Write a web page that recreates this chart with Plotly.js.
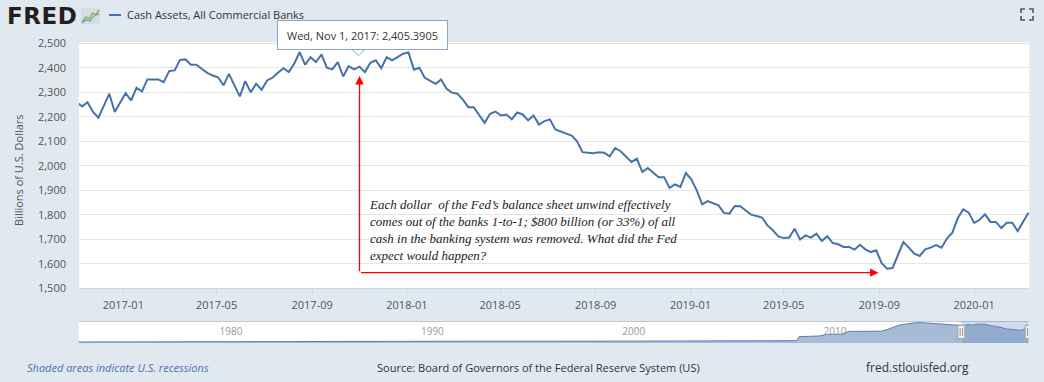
<!DOCTYPE html>
<html><head><meta charset="utf-8">
<script src="https://cdn.plot.ly/plotly-3.0.1.min.js"></script>
<style>html,body{margin:0;padding:0;background:#e1e9f0;}#chart{width:1044px;height:382px;}</style>
</head><body><div id="chart"></div>
<script>
// ---------- data (weekly, Wednesdays; Billions of U.S. Dollars) ----------
const seriesName = 'Cash Assets, All Commercial Banks';
const firstWeek = '2016-11-02';
const v2016 = [2260, 2243, 2260, 2220, 2197, 2247, 2295, 2220, 2260];
const v2017 = [2297, 2267, 2319, 2304, 2353, 2353, 2353, 2342, 2387, 2390, 2433, 2435, 2413, 2413, 2397, 2380,
  2369, 2362, 2329, 2376, 2329, 2284, 2346, 2301, 2335, 2311, 2349, 2360, 2380, 2399, 2383, 2417, 2465, 2413,
  2444, 2424, 2455, 2401, 2394, 2424, 2365, 2407, 2394, 2405.3905, 2383, 2421, 2431, 2399, 2444, 2431, 2444, 2458];
const v2018 = [2463, 2393, 2401, 2360, 2347, 2335, 2353, 2315, 2299, 2295, 2271, 2240, 2240, 2206, 2176, 2213,
  2222, 2206, 2210, 2190, 2218, 2210, 2186, 2206, 2169, 2183, 2190, 2149, 2141, 2131, 2124, 2100, 2056, 2054,
  2052, 2056, 2054, 2039, 2073, 2060, 2040, 2016, 2029, 1975, 1991, 1971, 1954, 1954, 1910, 1924, 1914, 1971];
const v2019 = [1945, 1900, 1843, 1856, 1846, 1839, 1808, 1805, 1836, 1835, 1818, 1801, 1795, 1789, 1757, 1737,
  1712, 1705, 1707, 1743, 1699, 1716, 1707, 1723, 1693, 1713, 1685, 1680, 1669, 1669, 1658, 1678, 1659, 1648,
  1655, 1603, 1580, 1583, 1636, 1689, 1666, 1641, 1632, 1659, 1666, 1676, 1666, 1703, 1727, 1787, 1822, 1809];
const v2020 = [1767, 1780, 1802, 1771, 1771, 1746, 1768, 1768, 1734, 1771, 1809];

// navigator history (full series)
const navHistDates = ['1973-01-03','1980-01-02','1990-01-03','2000-01-05','2007-06-06','2008-08-27','2008-10-15',
  '2009-03-04','2009-10-07','2010-03-03','2010-12-01','2011-04-06','2012-11-07','2013-03-06','2013-10-02',
  '2014-07-02','2014-11-05','2015-08-05','2016-03-02','2016-10-26'];
const navHistValues = [130, 190, 220, 240, 260, 300, 820, 860, 900, 1120, 1150, 1500, 1520, 1750, 2300,
  2600, 2620, 2500, 2420, 2250];

const yTickVals = [1500,1600,1700,1800,1900,2000,2100,2200,2300,2400,2500];
const navTickVals = ['1980-01-01','1990-01-01','2000-01-01','2010-01-01'];
const navTickYears = ['1980','1990','2000','2010'];

const highlightDate = '2017-11-01';
const noteText = "Each dollar  of the Fed\u2019s balance sheet unwind effectively<br>comes out of the banks 1-to-1; $800 billion (or 33%) of all<br>cash in the banking system was removed. What did the Fed<br>expect would happen?";
const noteArrowEnd = '2019-08-31';

// ---------- build ----------
const values = [].concat(v2016, v2017, v2018, v2019, v2020);
const t0 = Date.parse(firstWeek + 'T00:00:00Z');
const dates = values.map((_, i) => new Date(t0 + i * 7 * 864e5).toISOString().slice(0, 10));
const hiIdx = dates.indexOf(highlightDate);
const hiVal = values[hiIdx];
const navStart = '2016-11-05', navEnd = '2020-03-12';

const W = 1044, H = 382;
const px = x => x / W, py = y => 1 - y / H;
const pth = segs => segs.map(s => s.map((p, i) => (i ? 'L' : 'M') + px(p[0]).toFixed(5) + ',' + py(p[1]).toFixed(5)).join(' ')).join(' ');

const blue = '#4572a7';
const mainFont = 'Open Sans, Roboto, sans-serif';

const fmt = v => v.toLocaleString('en-US', {minimumFractionDigits: 4, maximumFractionDigits: 4});
const dd = new Date(highlightDate + 'T00:00:00Z');
const tipText = dd.toLocaleDateString('en-US', {weekday: 'short', month: 'short', day: 'numeric', year: 'numeric', timeZone: 'UTC'}) + ': ' + fmt(hiVal);

const traces = [
  {type: 'scatter', mode: 'lines', x: navHistDates.concat(dates), y: navHistValues.concat(values),
   xaxis: 'x2', yaxis: 'y2', fill: 'tozeroy', fillcolor: 'rgba(69,114,167,0.48)',
   line: {color: '#5a7fb5', width: 1}, hoverinfo: 'skip'},
  {type: 'scatter', mode: 'lines', name: seriesName, x: dates, y: values, xaxis: 'x', yaxis: 'y',
   line: {color: blue, width: 2}}
];

const axisTick = {family: mainFont, size: 11, color: '#555'};
const handle = (anchor) => ([
  {type: 'rect', xref: 'x2', xsizemode: 'pixel', xanchor: anchor, x0: -3.5, x1: 3.5, yref: 'paper', y0: py(338.7), y1: py(325.3),
   fillcolor: '#f2f2f2', line: {color: '#a0a0a0', width: 1}},
  {type: 'path', xref: 'x2', xsizemode: 'pixel', xanchor: anchor, yref: 'paper', ysizemode: 'pixel', yanchor: py(332),
   path: 'M-1.2,-4 L-1.2,4 M1.2,-4 L1.2,4', line: {color: '#999', width: 1}}
]);

const layout = {
  width: W, height: H, margin: {l: 0, r: 0, t: 0, b: 0},
  paper_bgcolor: '#e1e9f0', plot_bgcolor: '#ffffff',
  showlegend: false, hovermode: false,
  font: {family: mainFont, size: 11, color: '#555'},
  xaxis: {domain: [px(79), px(1029.3)], anchor: 'y', type: 'date', range: [navStart, navEnd],
    tickformat: '%Y-%m', dtick: 'M4', tick0: '2017-01-01', ticks: 'outside', ticklen: 6, tickcolor: '#ccd6eb',
    showgrid: false, showline: true, linecolor: '#ccd6eb', zeroline: false, tickfont: axisTick},
  yaxis: {domain: [py(288.3), py(42)], anchor: 'x', range: [1500, 2506], tickvals: yTickVals, tickformat: ',d',
    showgrid: true, gridcolor: '#e6e6e6', gridwidth: 1, zeroline: false, showline: false, ticks: '',
    ticklabelstandoff: 12, tickfont: axisTick},
  xaxis2: {domain: [px(78.75), px(1028.75)], anchor: 'y2', type: 'date', range: ['1973-01-01', navEnd],
    tickvals: navTickVals, ticktext: navTickYears, ticklabelposition: 'inside right', ticks: '',
    showgrid: false, showline: false, zeroline: false, tickfont: {family: mainFont, size: 10, color: '#999'}},
  yaxis2: {domain: [py(343), py(321.3)], anchor: 'x2', range: [0, 2800], visible: false},
  shapes: [
    // legend swatch
    {type: 'line', xref: 'paper', yref: 'paper', x0: px(109), x1: px(121), y0: py(15), y1: py(15), line: {color: blue, width: 2}},
    // logo icon
    {type: 'rect', xref: 'paper', yref: 'paper', x0: px(81), x1: px(100), y0: py(24), y1: py(8), fillcolor: '#d5dce4', line: {width: 0}},
    {type: 'path', xref: 'paper', yref: 'paper', path: pth([[[82,22],[86,17],[89,19],[93,13],[96,15],[99,10]]]), line: {color: '#86b55a', width: 1.5}},
    {type: 'path', xref: 'paper', yref: 'paper', path: pth([[[82,23],[86,20],[90,21],[94,16],[99,14]]]), line: {color: '#7d9cc9', width: 1.2}},
    // fullscreen icon
    {type: 'path', xref: 'paper', yref: 'paper', line: {color: '#555', width: 1.6},
     path: pth([[[1021,13],[1021,9],[1025,9]], [[1029,9],[1033,9],[1033,13]], [[1033,16],[1033,20],[1029,20]], [[1025,20],[1021,20],[1021,16]]])},
    // tooltip pointer
    {type: 'path', xref: 'paper', yref: 'paper', path: pth([[[352,49.5],[358.5,55.5],[365,49.5]]]),
     fillcolor: '#ffffff', line: {color: '#8da4c5', width: 1}},
    // navigator: top outline, selection mask, handles
    {type: 'line', xref: 'paper', yref: 'paper', x0: px(78.75), x1: px(1028.75), y0: py(321.5), y1: py(321.5), line: {color: '#c4c8cf', width: 1}},
    {type: 'rect', xref: 'x2', yref: 'paper', x0: navStart, x1: navEnd, y0: py(343), y1: py(321.3),
     fillcolor: 'rgba(102,133,194,0.30)', line: {width: 0}}
  ].concat(handle(navStart), handle(navEnd)),
  annotations: [
    {xref: 'paper', yref: 'paper', x: px(5), y: py(16.5), xanchor: 'left', yanchor: 'middle', showarrow: false,
     text: '<span style="letter-spacing:0.5px">FRED</span>', font: {family: 'DejaVu Sans, sans-serif', size: 23, color: '#231f20', weight: 'bold'}},
    {xref: 'paper', yref: 'paper', x: px(125), y: py(15), xanchor: 'left', yanchor: 'middle', showarrow: false,
     text: seriesName, font: {family: mainFont, size: 11, color: '#333'}},
    {xref: 'paper', yref: 'paper', x: px(18), y: py(170), xanchor: 'center', yanchor: 'middle', showarrow: false,
     textangle: -90, text: 'Billions of U.S. Dollars', font: {family: mainFont, size: 11, color: '#555'}},
    // tooltip
    {xref: 'x', yref: 'paper', x: highlightDate, xshift: 3, y: py(35), xanchor: 'center', yanchor: 'middle', showarrow: false,
     text: tipText, bgcolor: 'rgba(255,255,255,0.97)', bordercolor: '#8da4c5', borderwidth: 1, borderpad: 6,
     width: 157, height: 16, font: {family: mainFont, size: 11, color: '#333'}},
    // red arrows
    {xref: 'x', yref: 'y', x: highlightDate, y: 2367, axref: 'x', ayref: 'y', ax: highlightDate, ay: 1564, text: '',
     showarrow: true, arrowhead: 2, arrowsize: 1.3, arrowwidth: 1.3, arrowcolor: '#ff0000'},
    {xref: 'x', yref: 'y', x: noteArrowEnd, y: 1564, axref: 'x', ayref: 'y', ax: highlightDate, ay: 1564, text: '',
     showarrow: true, arrowhead: 2, arrowsize: 1.3, arrowwidth: 1.3, arrowcolor: '#ff0000'},
    {xref: 'x', yref: 'paper', x: highlightDate, xshift: 7, y: py(230), xanchor: 'left', yanchor: 'middle', showarrow: false,
     align: 'left', text: noteText, font: {family: 'Liberation Serif, serif', size: 13, color: '#222', style: 'italic'}},
    // footer
    {xref: 'paper', yref: 'paper', x: px(25), y: py(367), xanchor: 'left', yanchor: 'middle', showarrow: false,
     text: 'Shaded areas indicate U.S. recessions', font: {family: mainFont, size: 11, color: '#4a72ad', style: 'italic'}},
    {xref: 'paper', yref: 'paper', x: px(375), y: py(367), xanchor: 'left', yanchor: 'middle', showarrow: false,
     text: 'Source: Board of Governors of the Federal Reserve System (US)', font: {family: mainFont, size: 11, color: '#333'}},
    {xref: 'paper', yref: 'paper', x: px(864), y: py(367), xanchor: 'left', yanchor: 'middle', showarrow: false,
     text: 'fred.stlouisfed.org', font: {family: mainFont, size: 12, color: '#333'}}
  ]
};

Plotly.newPlot('chart', traces, layout, {staticPlot: true, displayModeBar: false});
</script>
</body></html>
